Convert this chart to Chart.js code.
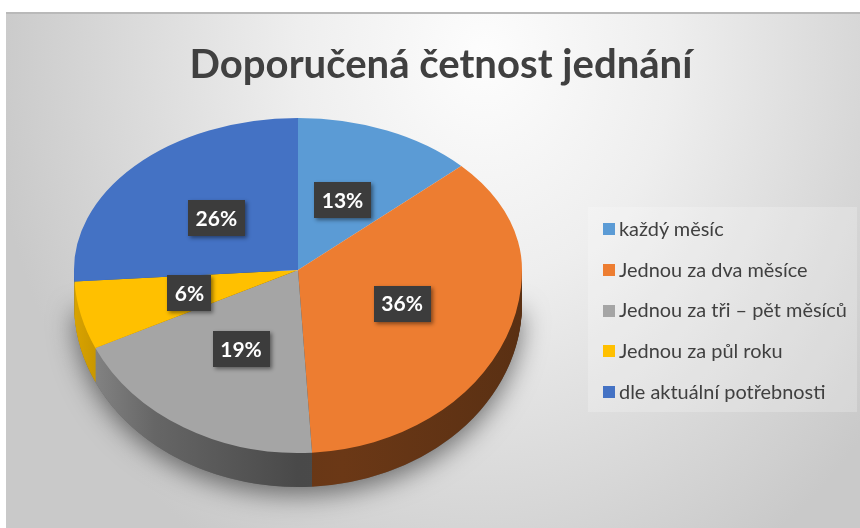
<!DOCTYPE html>
<html>
<head>
<meta charset="utf-8">
<script src="https://cdn.jsdelivr.net/npm/chart.js@4.4.1/dist/chart.umd.min.js"></script>
<style>
  html, body { margin: 0; padding: 0; background: #fff; }
  #wrap { position: relative; width: 860px; height: 528px; overflow: hidden; font-family: Lato, "Noto Sans", sans-serif; }
  #frame {
    position: absolute; left: 6px; top: 12px; width: 854px; height: 516px;
    box-sizing: border-box; border-top: 2px solid #b9b9b9;
    background: radial-gradient(ellipse 58% 115% at 56% 8%, #fdfdfd 0%, #eeeeee 38%, #c9c9c9 100%);
  }
  #chart { position: absolute; left: 0; top: 0; }
  #title { position: absolute; left: 0; width: 882px; text-align: center; color: #404040; font-weight: 700; white-space: nowrap; }
  #legendBox { position: absolute; left: 588px; top: 207px; width: 269px; height: 205px; background: rgba(255,255,255,0.22); }
  .sw { position: absolute; width: 12px; height: 12px; }
  .lbl { position: absolute; color: #404040; white-space: nowrap; }
</style>
</head>
<body>
<div id="wrap">
  <div id="frame"></div>
  <div id="legendBox"></div>
  <canvas id="chart" width="860" height="528"></canvas>
  <div id="title"></div>
  <div id="legend"></div>
</div>
<script>
// data
const labels = ['každý měsíc', 'Jednou za dva měsíce', 'Jednou za tři – pět měsíců', 'Jednou za půl roku', 'dle aktuální potřebnosti'];
const values = [13, 36, 19, 6, 26];
const colors = ['#5B9BD5', '#ED7D31', '#A5A5A5', '#FFC000', '#4472C4'];
const titleText = 'Doporučená četnost jednání';

// 3D look
const DEPTH = 34;
const K_BACK = 152 / 224;
const K_FRONT = 183 / 224;
const FONT = 'Lato, "Noto Sans", sans-serif';

function shade(hex, k) {
  const n = parseInt(hex.slice(1), 16);
  const r = Math.round(((n >> 16) & 255) * k);
  const g = Math.round(((n >> 8) & 255) * k);
  const b = Math.round((n & 255) * k);
  return `rgb(${r},${g},${b})`;
}

// measure text to place html labels on a baseline
const mctx = document.createElement('canvas').getContext('2d');
function fitSize(text, weight, width) {
  mctx.font = `${weight} 40px ${FONT}`;
  return 40 * width / mctx.measureText(text).width;
}
function placeText(el, text, weight, size, baseline) {
  mctx.font = `${weight} ${size}px ${FONT}`;
  const m = mctx.measureText(text);
  const a = m.fontBoundingBoxAscent, d = m.fontBoundingBoxDescent;
  el.textContent = text;
  el.style.fontSize = size + 'px';
  el.style.lineHeight = (a + d) + 'px';
  el.style.top = (baseline - a) + 'px';
}

// title
const titleSize = fitSize(titleText, 700, 503);
placeText(document.getElementById('title'), titleText, 700, titleSize, 78);

// legend
const legend = document.getElementById('legend');
const legendSize = fitSize(labels[2], 400, 228);
labels.forEach((lab, i) => {
  const c = 229 + i * 40.8;
  const sw = document.createElement('div');
  sw.className = 'sw';
  sw.style.left = '603px';
  sw.style.top = (c - 6) + 'px';
  sw.style.background = colors[i];
  legend.appendChild(sw);
  const t = document.createElement('div');
  t.className = 'lbl';
  t.style.left = '619px';
  placeText(t, lab, 400, legendSize, c + legendSize * 0.34);
  legend.appendChild(t);
});

const pie3d = {
  id: 'pie3d',
  beforeDatasetsDraw(chart) {
    const ctx = chart.ctx;
    const arcs = chart.getDatasetMeta(0).data;
    const cx = arcs[0].x, cy = arcs[0].y, r = arcs[0].outerRadius;
    const W = chart.width, H = chart.height;

    // soft shadow under the front rim
    ctx.save();
    ctx.shadowColor = 'rgba(0,0,0,0.5)';
    ctx.shadowBlur = 26;
    ctx.shadowOffsetY = 8;
    ctx.fillStyle = '#666';
    ctx.beginPath();
    ctx.ellipse(cx, cy + DEPTH, r, r * K_FRONT, 0, 0, Math.PI);
    ctx.closePath();
    ctx.fill();
    ctx.restore();

    // side walls
    const grads = arcs.map((arc, i) => {
      const g = ctx.createLinearGradient(-r, 0, r, 0);
      g.addColorStop(0, shade(colors[i], 0.85));
      g.addColorStop(0.18, shade(colors[i], 0.62));
      g.addColorStop(0.5, shade(colors[i], 0.44));
      g.addColorStop(0.6, shade(colors[i], 0.45));
      g.addColorStop(1, shade(colors[i], 0.38));
      return g;
    });
    for (let d = DEPTH; d >= 1; d--) {
      ctx.save();
      ctx.beginPath();
      ctx.rect(0, cy + d, W, H);
      ctx.clip();
      ctx.translate(cx, cy + d);
      ctx.scale(1, K_FRONT);
      arcs.forEach((arc, i) => {
        ctx.fillStyle = grads[i];
        ctx.beginPath();
        ctx.moveTo(0, 0);
        ctx.arc(0, 0, r, arc.startAngle, arc.endAngle);
        ctx.closePath();
        ctx.fill();
      });
      ctx.restore();
    }

    // back half of the top face
    ctx.save();
    ctx.beginPath();
    ctx.rect(0, 0, W, cy);
    ctx.clip();
    ctx.translate(cx, cy);
    ctx.scale(1, K_BACK);
    ctx.translate(-cx, -cy);
    arcs.forEach(a => a.draw(ctx));
    ctx.restore();

    // front half is drawn by the chart itself
    ctx.save();
    ctx.beginPath();
    ctx.rect(0, cy, W, H - cy);
    ctx.clip();
    ctx.translate(cx, cy);
    ctx.scale(1, K_FRONT);
    ctx.translate(-cx, -cy);
  },
  afterDatasetsDraw(chart) {
    const ctx = chart.ctx;
    ctx.restore();

    // percentage labels
    const arcs = chart.getDatasetMeta(0).data;
    const total = values.reduce((s, v) => s + v, 0);
    ctx.save();
    ctx.font = `bold 21px ${FONT}`;
    ctx.textAlign = 'center';
    ctx.textBaseline = 'middle';
    arcs.forEach((arc, i) => {
      const mid = (arc.startAngle + arc.endAngle) / 2;
      const k = Math.sin(mid) < 0 ? K_BACK : K_FRONT;
      const x = arc.x + Math.cos(mid) * arc.outerRadius * 0.5;
      const y = arc.y + Math.sin(mid) * arc.outerRadius * 0.5 * k;
      const text = Math.round(values[i] / total * 100) + '%';
      const w = ctx.measureText(text).width + 15, h = 36;
      ctx.save();
      ctx.shadowColor = 'rgba(0,0,0,0.45)';
      ctx.shadowBlur = 4;
      ctx.shadowOffsetX = 2;
      ctx.shadowOffsetY = 2;
      ctx.fillStyle = '#3c3c3c';
      ctx.fillRect(Math.round(x - w / 2), Math.round(y - h / 2), Math.round(w), h);
      ctx.restore();
      ctx.fillStyle = '#ffffff';
      ctx.fillText(text, x, y + 1);
    });
    ctx.restore();
  }
};

new Chart(document.getElementById('chart'), {
  type: 'pie',
  data: {
    labels: labels,
    datasets: [{
      data: values,
      backgroundColor: colors,
      borderWidth: 0,
      clip: false
    }]
  },
  options: {
    responsive: false,
    animation: false,
    events: [],
    layout: { padding: { left: 74, right: 338, top: 46, bottom: 34 } },
    plugins: {
      legend: { display: false },
      tooltip: { enabled: false }
    }
  },
  plugins: [pie3d]
});
</script>
</body>
</html>
